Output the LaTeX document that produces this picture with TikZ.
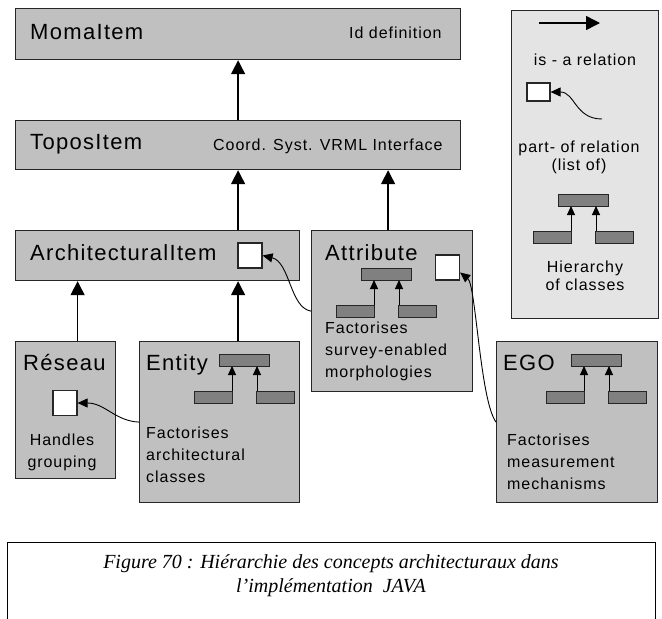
\documentclass[tikz,border=0pt]{standalone}
\usepackage{fontspec}
\setmainfont{Liberation Serif}
\newfontfamily\msfont{Liberation Sans}[LetterSpace=6]
\usetikzlibrary{arrows.meta}

\definecolor{boxgray}{HTML}{C0C0C0}
\definecolor{leggray}{HTML}{E4E4E4}
\definecolor{bargray}{HTML}{808080}

\begin{document}
\begin{tikzpicture}[x=1pt, y=-1pt, font={\fontsize{16}{22}\msfont}, box/.style={draw=black!85, line width=1.2pt, fill=boxgray, anchor=north west, inner sep=0pt}, title/.style={font={\fontsize{22}{26}\msfont}, anchor=base west, inner sep=0pt}, note/.style={align=left, anchor=north west, inner sep=0pt}, legtext/.style={align=center, anchor=north, inner sep=0pt, font={\fontsize{16}{18}\msfont}}, isa/.style={line width=1.5pt, -{Triangle[width=14pt, length=14pt]}}, partsq/.style={draw=black!85, line width=1.2pt, fill=white, minimum width=24pt, minimum height=25pt, inner sep=0pt}, partof/.style={line width=0.9pt, -{Triangle[width=9pt, length=10pt]}}, bar/.style={draw=black!85, line width=1pt, fill=bargray}, tinyisa/.style={line width=1pt, -{Triangle[width=8pt, length=9pt]}}, classtree/.pic={\draw[bar] (0,0) rectangle (50,12); \draw[bar] (-25,37) rectangle (13,49); \draw[bar] (37,37) rectangle (75,49); \draw[tinyisa] (13,37) -- (13,12); \draw[tinyisa] (38,37) -- (38,12);}]
\useasboundingbox (0,0) rectangle (662,619);
% class boxes
\node[box, minimum width=445pt, minimum height=51pt] (moma) at (15,8){};
\node[box, minimum width=445pt, minimum height=49pt] (topos) at (15,120){};
\node[box, minimum width=284pt, minimum height=50pt] (arch) at (15,230){};
\node[box, minimum width=161pt, minimum height=161pt] (attr) at (311,230){};
\node[box, minimum width=100pt, minimum height=137pt] (reseau) at (15,341){};
\node[box, minimum width=160pt, minimum height=161pt] (entity) at (139,341){};
\node[box, minimum width=161pt, minimum height=161pt] (ego) at (496,341){};
\node[box, fill=leggray, minimum width=147pt, minimum height=308pt] (legend) at (511,10){};
% names and remarks
\node[title] (momaT) at (30,39){MomaItem};
\node[anchor=base west, inner sep=0pt] (momaD) at (349,38){Id definition};
\node[title] (toposT) at (30,149){ToposItem};
\node[anchor=base west, inner sep=0pt] (toposD) at (213,150){Coord. Syst. VRML Interface};
\node[title] (archT) at (30,260){ArchitecturalItem};
\node[title] (attrT) at (325,260){Attribute};
\node[title] (reseauT) at (23,370){Réseau};
\node[title] (entityT) at (146,370){Entity};
\node[title] (egoT) at (503,370){EGO};
\node[align=center, anchor=north, inner sep=0pt] (reseauD) at (62,433.4){Handles\\grouping};
\node[note] (entityD) at (146,426.4){Factorises\\architectural\\classes};
\node[note] (attrD) at (325,321.4){Factorises\\survey-enabled\\morphologies};
\node[note] (egoD) at (507,433.4){Factorises\\measurement\\mechanisms};
% part-of squares
\node[partsq] (archSq) at (250,255.5){};
\node[partsq] (attrSq) at (447.5,267.5){};
\node[partsq] (reseauSq) at (65,403){};
\node[partsq, minimum width=23pt, minimum height=18pt] (legSq) at (538.5,92){};
% class trees
\pic at (219,354) {classtree};
\pic at (361,268) {classtree};
\pic at (571,354) {classtree};
\pic at (558,194) {classtree};
% is-a relations
\draw[isa] (topos.north) -- (moma.south);
\draw[isa] (arch.north -| topos.south) -- (topos.south);
\draw[isa] ([xshift=-4pt]attr.north) -- ([xshift=-4pt]attr.north |- topos.south);
\draw[isa] (entity.north -| topos.south) -- (arch.south -| topos.south);
\draw[isa] (reseau.north -| reseauSq.east) -- (arch.south -| reseauSq.east);
% part-of relations
\draw[partof] (attr.west) .. controls (290,308) and (290,262) .. (archSq.east);
\draw[partof] (entity.west) .. controls (115,421) and (105,403) .. (reseauSq.east);
\draw[partof] (ego.west) .. controls (480,400) and (476,285) .. ([yshift=-5pt]attrSq.east);
% legend
\coordinate (legA) at (539,23);
\coordinate (legB) at (600,23);
\coordinate (legC) at (602,119);
\draw[isa] (legA) -- (legB);
\draw[partof] (legC) .. controls (575,119) and (575,92) .. (legSq.east);
\node[anchor=base, inner sep=0pt] (isaT) at (585,65){is - a relation};
\node[legtext] (partofT) at (579,140.4){part- of relation\\(list of)};
\node[legtext] (treeT) at (585,260.4){Hierarchy\\of classes};
% caption
\draw[line width=1pt] (7,619) -- (7,542) -- (655,542) -- (655,619);
\node[align=center, anchor=north, inner sep=0pt, font={\fontsize{20}{24}\selectfont\itshape}] (caption) at (331,554.3){Figure 70 : Hiérarchie des concepts architecturaux dans\\l'implémentation~ JAVA};
\end{tikzpicture}
\end{document}
